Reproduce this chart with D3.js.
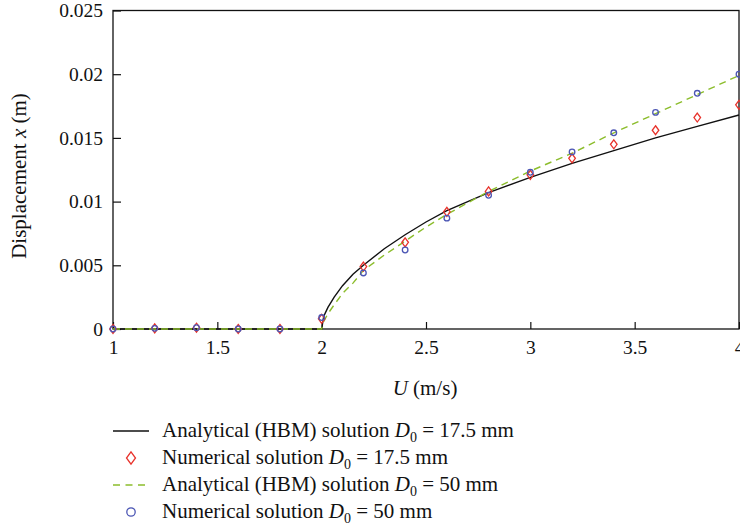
<!DOCTYPE html>
<html>
<head>
<meta charset="utf-8">
<script src="https://cdn.jsdelivr.net/npm/d3@7"></script>
<style>
  body { margin: 0; background: #fff; }
</style>
</head>
<body>
<div id="chart"></div>
<script>
// numerical samples (markers)
const uNum = [1, 1.2, 1.4, 1.6, 1.8, 2.0, 2.2, 2.4, 2.6, 2.8, 3.0, 3.2, 3.4, 3.6, 3.8, 4.0];
const xNum175 = [0, 0.00005, 0.0001, 0, 0, 0.0008, 0.0049, 0.0068, 0.0092, 0.0108, 0.0121, 0.0134, 0.0145, 0.0156, 0.0166, 0.0176];
const xNum50 = [0, 0.00005, 0.0001, 0, 0, 0.0009, 0.0044, 0.0062, 0.0087, 0.0105, 0.0123, 0.0139, 0.0154, 0.0170, 0.0185, 0.0200];

// analytical (HBM) curves
const uAna = [1, 2, 2.01, 2.03, 2.06, 2.1, 2.15, 2.2, 2.3, 2.4, 2.5, 2.6, 2.8, 3.0, 3.2, 3.4, 3.6, 3.8, 4.0];
const xAna175 = [0, 0, 0.0010, 0.0017, 0.0025, 0.0034, 0.0043, 0.0050, 0.0063, 0.0074, 0.0084, 0.0093, 0.0107, 0.0119, 0.0130, 0.0140, 0.0150, 0.0159, 0.0168];
const xAna50 = [0, 0, 0.0006, 0.0012, 0.0019, 0.0028, 0.0036, 0.0046, 0.0058, 0.0069, 0.0080, 0.0090, 0.0108, 0.0124, 0.0138, 0.0154, 0.0169, 0.0184, 0.0199];

const xTicks = [1, 1.5, 2, 2.5, 3, 3.5, 4];
const yTicks = [0, 0.005, 0.01, 0.015, 0.02, 0.025];

const width = 740;
const height = 530;
const margin = {top: 10.5, right: 1, bottom: 201, left: 113};
const serif = "'Liberation Serif', 'Times New Roman', serif";

const red = "#e8322b";
const blue = "#4c56b4";
const green = "#8cbd2c";

const svg = d3.select("#chart").append("svg")
    .attr("width", width)
    .attr("height", height)
    .style("font-family", serif);

const x = d3.scaleLinear()
    .domain([1, 4])
    .range([margin.left, width - margin.right]);

const y = d3.scaleLinear()
    .domain([0, 0.025])
    .range([height - margin.bottom, margin.top]);

// Axes (ticks point inward)
const xAxis = svg.append("g")
    .attr("transform", `translate(0,${height - margin.bottom})`)
    .call(d3.axisBottom(x).tickValues(xTicks).tickFormat(d3.format("")).tickSizeInner(-7).tickSizeOuter(0).tickPadding(11));

const yAxis = svg.append("g")
    .attr("transform", `translate(${margin.left},0)`)
    .call(d3.axisLeft(y).tickValues(yTicks).tickFormat(d => d === 0 ? "0" : String(+d.toFixed(3))).tickSizeInner(-8).tickSizeOuter(0).tickPadding(10));

[xAxis, yAxis].forEach(g => {
    g.select(".domain").remove();
    g.selectAll("line").attr("stroke", "#111").attr("stroke-width", 1.2);
    g.selectAll("text").attr("fill", "#111")
        .style("font-family", serif)
        .style("font-size", "19.5px");
});

// frame
svg.append("rect")
    .attr("x", x(1))
    .attr("y", y(0.025))
    .attr("width", x(4) - x(1))
    .attr("height", y(0) - y(0.025))
    .attr("fill", "none")
    .attr("stroke", "#111")
    .attr("stroke-width", 1.3);

// lines
const line = d3.line()
    .x(d => x(d[0]))
    .y(d => y(d[1]));

svg.append("path")
    .datum(uAna.map((u, i) => [u, xAna175[i]]))
    .attr("d", line)
    .attr("fill", "none")
    .attr("stroke", "#111")
    .attr("stroke-width", 1.4);

svg.append("path")
    .datum(uAna.map((u, i) => [u, xAna50[i]]))
    .attr("d", line)
    .attr("fill", "none")
    .attr("stroke", green)
    .attr("stroke-width", 1.4)
    .attr("stroke-dasharray", "7,5");

// markers
const diamond = (cx, cy, w, h) => `M${cx},${cy - h}L${cx + w},${cy}L${cx},${cy + h}L${cx - w},${cy}Z`;

svg.selectAll(".dia")
    .data(uNum.map((u, i) => [u, xNum175[i]]))
    .enter().append("path")
    .attr("class", "dia")
    .attr("d", d => diamond(x(d[0]), y(d[1]), 3.3, 4.5))
    .attr("fill", "none")
    .attr("stroke", red)
    .attr("stroke-width", 1.3);

svg.selectAll(".circ")
    .data(uNum.map((u, i) => [u, xNum50[i]]))
    .enter().append("circle")
    .attr("class", "circ")
    .attr("cx", d => x(d[0]))
    .attr("cy", d => y(d[1]))
    .attr("r", 2.8)
    .attr("fill", "none")
    .attr("stroke", blue)
    .attr("stroke-width", 1.3);

// axis titles
const yTitle = svg.append("text")
    .attr("transform", `translate(26,176) rotate(-90)`)
    .attr("text-anchor", "middle")
    .attr("fill", "#111")
    .style("font-size", "21px");
yTitle.append("tspan").text("Displacement ");
yTitle.append("tspan").attr("font-style", "italic").text("x");
yTitle.append("tspan").text(" (m)");

const xTitle = svg.append("text")
    .attr("x", 425)
    .attr("y", 395)
    .attr("text-anchor", "middle")
    .attr("fill", "#111")
    .style("font-size", "21px");
xTitle.append("tspan").attr("font-style", "italic").text("U");
xTitle.append("tspan").text(" (m/s)");

// legend
const legendItems = [
    {label: "Analytical (HBM) solution ", val: " = 17.5 mm", kind: "line", color: "#111"},
    {label: "Numerical solution ", val: " = 17.5 mm", kind: "diamond", color: red},
    {label: "Analytical (HBM) solution ", val: " = 50 mm", kind: "dash", color: green},
    {label: "Numerical solution ", val: " = 50 mm", kind: "circle", color: blue}
];

legendItems.forEach((item, i) => {
    const cy = 431 + i * 27;
    if (item.kind === "line" || item.kind === "dash") {
        svg.append("line")
            .attr("x1", 113).attr("x2", 149)
            .attr("y1", cy).attr("y2", cy)
            .attr("stroke", item.color)
            .attr("stroke-width", 1.3)
            .attr("stroke-dasharray", item.kind === "dash" ? "7,5.5" : null);
    } else if (item.kind === "diamond") {
        svg.append("path")
            .attr("d", diamond(131, cy, 4.5, 6.2))
            .attr("fill", "none")
            .attr("stroke", item.color)
            .attr("stroke-width", 1.3);
    } else {
        svg.append("circle")
            .attr("cx", 131).attr("cy", cy)
            .attr("r", 4.2)
            .attr("fill", "none")
            .attr("stroke", item.color)
            .attr("stroke-width", 1.3);
    }
    const t = svg.append("text")
        .attr("x", 162)
        .attr("y", cy + 6)
        .attr("fill", "#111")
        .style("font-size", "21px");
    t.append("tspan").text(item.label);
    t.append("tspan").attr("font-style", "italic").text("D");
    t.append("tspan").style("font-size", "14px").attr("dy", 5).text("0");
    t.append("tspan").attr("dy", -5).text(item.val);
});
</script>
</body>
</html>
